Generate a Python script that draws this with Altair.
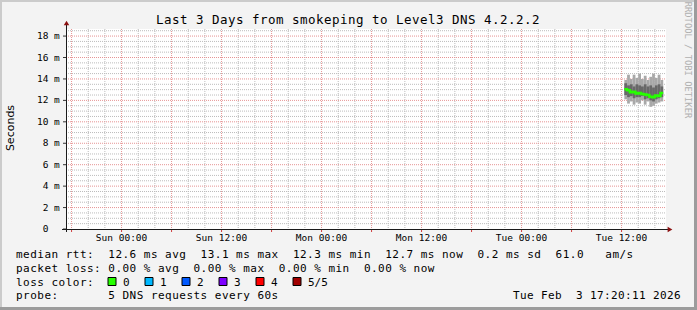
import altair as alt
import pandas as pd

# ---------------- data ----------------
title_text = "Last 3 Days from smokeping to Level3 DNS 4.2.2.2"
y_title = "Seconds"
watermark = "RRDTOOL / TOBI OETIKER"

t_start = "2026-01-31T17:20:00Z"
t_end = "2026-02-03T17:20:00Z"

times = ["2026-02-03T12:20:00Z", "2026-02-03T12:40:00Z", "2026-02-03T13:00:00Z",
         "2026-02-03T13:20:00Z", "2026-02-03T13:40:00Z", "2026-02-03T14:00:00Z",
         "2026-02-03T14:20:00Z", "2026-02-03T14:40:00Z", "2026-02-03T15:00:00Z",
         "2026-02-03T15:20:00Z", "2026-02-03T15:40:00Z", "2026-02-03T16:00:00Z",
         "2026-02-03T16:20:00Z", "2026-02-03T16:40:00Z"]
last_time_end = "2026-02-03T17:00:00Z"
# ping values in ms (sorted pings: p1 min ... p5 max, p3 = median)
p1 = [12.1, 11.7, 11.9, 11.6, 11.8, 11.7, 12.0, 11.6, 11.9, 11.4, 11.5, 11.7, 11.8, 11.9]
p2 = [12.5, 12.3, 12.4, 12.2, 12.3, 12.3, 12.4, 12.1, 12.2, 12.0, 11.9, 12.1, 12.2, 12.3]
p3 = [13.05, 12.95, 12.75, 12.8, 12.65, 12.7, 12.6, 12.55, 12.5, 12.35, 12.3, 12.45, 12.4, 12.7]
p4 = [13.6, 13.4, 13.5, 13.3, 13.5, 13.4, 13.3, 13.5, 13.3, 13.4, 13.2, 13.4, 13.5, 13.3]
p5 = [13.9, 14.4, 14.0, 14.4, 14.1, 14.5, 14.0, 14.3, 13.9, 14.2, 14.5, 14.1, 14.4, 13.9]

x_tick_labels = ["Sun 00:00", "Sun 12:00", "Mon 00:00", "Mon 12:00", "Tue 00:00", "Tue 12:00"]
x_tick_times = ["2026-02-01T00:00:00Z", "2026-02-01T12:00:00Z", "2026-02-02T00:00:00Z",
                "2026-02-02T12:00:00Z", "2026-02-03T00:00:00Z", "2026-02-03T12:00:00Z"]
y_tick_values = [0, 2, 4, 6, 8, 10, 12, 14, 16, 18]
y_unit = "m"

legend_lines = [
    "median rtt:  12.6 ms avg  13.1 ms max  12.3 ms min  12.7 ms now  0.2 ms sd  61.0   am/s",
    "packet loss: 0.00 % avg  0.00 % max  0.00 % min  0.00 % now",
    "loss color:",
    "probe:       5 DNS requests every 60s",
]
timestamp = "Tue Feb  3 17:20:11 2026"
loss_labels = ["0", "1", "2", "3", "4", "5/5"]
loss_colors = ["#26ff00", "#00b8ff", "#0059ff", "#7e00ff", "#ff0000", "#a10000"]

# ---------------- layout ----------------
OX, OY = 66, 29          # plot origin in the page
W, H = 600, 200
YMAX = 18.66
MONO = "DejaVu Sans Mono"
GRID_MINOR = "#bcbcbc"
GRID_MAJOR = "#e69494"

def ms(ts):
    return int(pd.Timestamp(ts).value // 1_000_000)

x_scale = alt.Scale(type="utc", domain=[ms(t_start), ms(t_end)])
y_scale = alt.Scale(domain=[0, YMAX], nice=False, zero=False)
px_x = alt.Scale(domain=[0, W], range=[0, W])
px_y = alt.Scale(domain=[0, H], range=[0, H])

# grid positions (minor every 2 h / 0.5 m, major every 6 h / 2 m)
gx = pd.date_range("2026-01-31T18:00:00Z", "2026-02-03T16:00:00Z", freq="2h")
grid_x = pd.DataFrame({"t": [int(t.value // 1_000_000) for t in gx],
                       "major": [t.hour % 6 == 0 for t in gx]})
grid_y = pd.DataFrame({"v": [i * 0.5 for i in range(1, 38)]})
grid_y["major"] = grid_y["v"] % 2 == 0

def X(field, **kw):
    return alt.X(field, scale=x_scale, axis=None, **kw)

def Y(field, **kw):
    return alt.Y(field, scale=y_scale, axis=None, **kw)

one = alt.Data(values=[{}])

gx_minor = alt.Chart(grid_x[~grid_x.major]).mark_rule(color=GRID_MINOR, strokeDash=[1, 1]).encode(
    x=X("t:T"), y=alt.value(0), y2=alt.value(H))
gy_minor = alt.Chart(grid_y[~grid_y.major]).mark_rule(color=GRID_MINOR, strokeDash=[1, 1]).encode(
    y=Y("v:Q"), x=alt.value(0), x2=alt.value(W))
gx_major = alt.Chart(grid_x[grid_x.major]).mark_rule(color=GRID_MAJOR, strokeDash=[1, 1]).encode(
    x=X("t:T"), y=alt.value(0), y2=alt.value(H))
gy_major = alt.Chart(grid_y[grid_y.major]).mark_rule(color=GRID_MAJOR, strokeDash=[1, 1]).encode(
    y=Y("v:Q"), x=alt.value(0), x2=alt.value(W))

# ticks
x_ticks = alt.Chart(grid_x[grid_x.major]).mark_rule(color="#d04040").encode(
    x=X("t:T"), y=alt.value(H), y2=alt.value(H + 3))
y_ticks = alt.Chart(pd.DataFrame({"v": y_tick_values})).mark_rule(color="#333333").encode(
    y=Y("v:Q"), x=alt.value(-3), x2=alt.value(0))

# axis labels
xl = pd.DataFrame({"t": [ms(t) for t in x_tick_times], "lab": x_tick_labels})
x_labels = alt.Chart(xl).mark_text(font=MONO, fontSize=9.5, baseline="top", align="center", color="#000").encode(
    x=X("t:T"), y=alt.value(H + 4), text="lab:N")
yl = pd.DataFrame({"v": y_tick_values, "num": [str(v) for v in y_tick_values],
                   "unit": ["" if v == 0 else y_unit for v in y_tick_values]})
y_num = alt.Chart(yl).mark_text(font=MONO, fontSize=9.5, baseline="middle", align="right", color="#000").encode(
    y=Y("v:Q"), x=alt.value(48.5 - OX), text="num:N")
y_unit_l = alt.Chart(yl).mark_text(font=MONO, fontSize=9.5, baseline="middle", align="left", color="#000").encode(
    y=Y("v:Q"), x=alt.value(54 - OX), text="unit:N")

# smoke + median
smoke = pd.DataFrame({"t": times, "p1": p1, "p2": p2, "p3": p3, "p4": p4, "p5": p5})
smoke["t2"] = times[1:] + [last_time_end]
line_df = pd.DataFrame({"t": times + [last_time_end], "v": p3 + [p3[-1]]})

light = alt.Chart(smoke).mark_rect(color="#a8a8a8").encode(
    x=X("t:T"), x2="t2:T", y=Y("p1:Q"), y2="p5:Q")
dark = alt.Chart(smoke).mark_rect(color="#686868").encode(
    x=X("t:T"), x2="t2:T", y=Y("p2:Q"), y2="p4:Q")
median = alt.Chart(line_df).mark_line(interpolate="step-after", color="#26ff00", strokeWidth=2.5).encode(
    x=X("t:T"), y=Y("v:Q"))

data_layers = alt.layer(gx_minor, gy_minor, gx_major, gy_major, light, dark, median,
                        x_ticks, y_ticks, x_labels, y_num, y_unit_l)

# frame shading
frame = [
    alt.Chart(one).mark_rect(color="#cbcbcb").encode(x=alt.value(-OX), x2=alt.value(697 - OX), y=alt.value(-OY), y2=alt.value(2 - OY)),
    alt.Chart(one).mark_rect(color="#cbcbcb").encode(x=alt.value(-OX), x2=alt.value(2 - OX), y=alt.value(-OY), y2=alt.value(310 - OY)),
    alt.Chart(one).mark_rect(color="#9c9c9c").encode(x=alt.value(694 - OX), x2=alt.value(697 - OX), y=alt.value(-OY), y2=alt.value(310 - OY)),
    alt.Chart(one).mark_rect(color="#9c9c9c").encode(x=alt.value(-OX), x2=alt.value(697 - OX), y=alt.value(307 - OY), y2=alt.value(310 - OY)),
]

# axis lines and arrows
axes_lines = [
    alt.Chart(one).mark_rule(color="#1a1a1a", strokeWidth=1).encode(
        x=alt.value(0.5), y=alt.value(-6), y2=alt.value(H + 3)),
    alt.Chart(one).mark_rule(color="#1a1a1a", strokeWidth=1).encode(
        x=alt.value(-4), x2=alt.value(W + 3), y=alt.value(H + 0.5)),
    alt.Chart(one).mark_point(shape="triangle-up", filled=True, color="#8b1010", size=30, opacity=1).encode(
        x=alt.value(0.5), y=alt.value(-6)),
    alt.Chart(one).mark_point(shape="triangle-right", filled=True, color="#8b1010", size=30, opacity=1).encode(
        x=alt.value(W + 4), y=alt.value(H + 0.5)),
]

# per-character monospace text
def char_rows(text, x0, pitch, y):
    return [{"ch": c, "px": x0 + i * pitch - OX, "py": y - OY} for i, c in enumerate(text) if c != " "]

title_rows = char_rows(title_text, 348 - len(title_text) * 8 / 2, 8.0, 24)
leg_rows = []
for k, line in enumerate(legend_lines):
    leg_rows += char_rows(line, 16, 7.1, [258, 272, 285.5, 299][k])
leg_rows += char_rows(timestamp, 681 - len(timestamp) * 7.0, 7.0, 299)

title_layer = alt.Chart(alt.Data(values=title_rows)).mark_text(
    font=MONO, fontSize=12.5, align="left", baseline="alphabetic", color="#000000"
).encode(x=alt.X("px:Q", scale=px_x, axis=None), y=alt.Y("py:Q", scale=px_y, axis=None), text="ch:N")

legend_layer = alt.Chart(alt.Data(values=leg_rows)).mark_text(
    font=MONO, fontSize=11, align="left", baseline="alphabetic", color="#000000"
).encode(x=alt.X("px:Q", scale=px_x, axis=None), y=alt.Y("py:Q", scale=px_y, axis=None), text="ch:N")

box_rows = [{"lab": lab, "col": col, "bx": 108 + i * 37 - OX, "bx2": 116 + i * 37 - OX,
             "by": 277.5 - OY, "by2": 285.5 - OY, "tx": 123 + i * 37 - OX, "ty": 285.5 - OY}
            for i, (lab, col) in enumerate(zip(loss_labels, loss_colors))]
boxes = alt.Chart(alt.Data(values=box_rows)).mark_rect(stroke="#000000", strokeWidth=1).encode(
    x=alt.X("bx:Q", scale=px_x, axis=None), x2="bx2:Q",
    y=alt.Y("by:Q", scale=px_y, axis=None), y2="by2:Q",
    color=alt.Color("col:N", scale=None),
)
box_text = alt.Chart(alt.Data(values=box_rows)).mark_text(
    font=MONO, fontSize=11, align="left", baseline="alphabetic", color="#000000"
).encode(x=alt.X("tx:Q", scale=px_x, axis=None), y=alt.Y("ty:Q", scale=px_y, axis=None), text="lab:N")
text_layers = alt.layer(title_layer, legend_layer, boxes, box_text)

ytitle = alt.Chart(one).mark_text(
    text=y_title, font="DejaVu Sans", fontSize=11, angle=270, align="center", baseline="middle", color="#000000"
).encode(x=alt.value(10.5 - OX), y=alt.value(128 - OY))

wm = alt.Chart(one).mark_text(
    text=watermark, font=MONO, fontSize=8.8, angle=90, align="center", baseline="middle", color="#b0b0b0"
).encode(x=alt.value(688 - OX), y=alt.value(60 - OY))

chart = alt.layer(
    *frame, data_layers, *axes_lines, text_layers, ytitle, wm
).resolve_scale(x="independent", y="independent").properties(
    width=W, height=H,
    padding={"left": OX, "top": OY, "right": 697 - OX - W, "bottom": 310 - OY - H},
    autosize=alt.AutoSizeParams(type="none"),
    background="#f3f3f3",
).configure_view(fill="#ffffff", stroke=None)

chart.save("out.html", embed_options={"renderer": "svg", "actions": False})
